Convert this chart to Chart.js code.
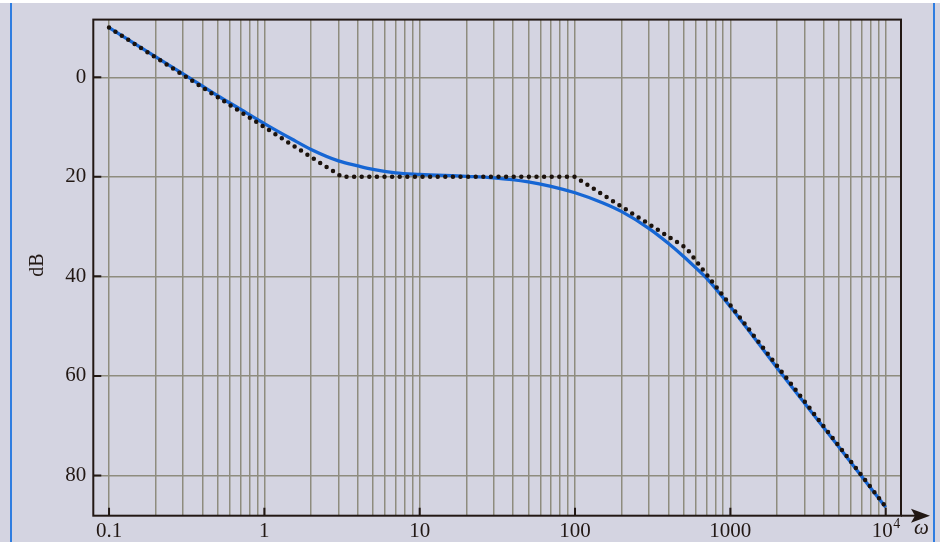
<!DOCTYPE html>
<html>
<head>
<meta charset="utf-8">
<script src="https://cdn.jsdelivr.net/npm/chart.js@4.4.1/dist/chart.umd.min.js"></script>
<style>
  html, body { margin: 0; padding: 0; background: #d4d4e1; }
  #wrap { position: relative; width: 940px; height: 542px; overflow: hidden; }
  #topband { position: absolute; left: 0; top: 0; width: 940px; height: 3px; background: #ffffff; }
  .edge { position: absolute; top: 3px; width: 2px; height: 539px; background: #2f7de0; }
</style>
</head>
<body>
<div id="wrap">
  <canvas id="bode"></canvas>
  <div id="topband"></div>
  <div class="edge" style="left:10px"></div>
  <div class="edge" style="left:933px"></div>
</div>
<script>
// ===== data =====
// straight-line (asymptotic) approximation, dotted
const omegaAsym = [0.1, 3.16, 100, 520, 10000];
const dbAsym = [-10, 20, 20, 34.3, 86.3];

// exact magnitude, blue
const omegaExact = [0.1, 0.2, 0.3, 0.5, 0.7, 1, 1.5, 2, 3, 4, 5, 7, 10, 20, 30, 50, 70,
  100, 150, 200, 300, 400, 500, 600, 700, 1000, 2000, 5000, 10000];
const dbExact = [-10, -4.1, -0.7, 3.7, 6.4, 9.3, 12.4, 14.5, 16.8, 17.8, 18.5, 19.2, 19.5, 19.9, 20.2, 21.0, 21.9,
  23.2, 25.2, 27.0, 30.4, 33.4, 36.0, 38.3, 40.3, 46.1, 58.4, 74.3, 86.4];

// axes
const gridOmega = [0.1, 0.2, 0.3, 0.4, 0.5, 0.6, 0.7, 0.8, 0.9,
  1, 2, 3, 4, 5, 6, 7, 8, 9,
  10, 20, 30, 40, 50, 60, 70, 80, 90,
  100, 200, 300, 400, 500, 600, 700, 800, 900,
  1000, 2000, 3000, 4000, 5000, 6000, 7000, 8000, 9000,
  10000];
const decadeLabels = [0.1, 1, 10, 100, 1000];
const dbTicks = [0, 20, 40, 60, 80];

const ink = "#221814";
const serif = "'Liberation Serif', 'DejaVu Serif', serif";

const toPoints = (xs, ys) => xs.map((x, i) => ({ x, y: ys[i] }));

// ===== frame, inner ticks, arrow, extra labels =====
const frame = {
  id: "frame",
  afterDraw(chart) {
    const { ctx, chartArea: a, scales: { x, y } } = chart;
    ctx.save();
    ctx.strokeStyle = ink;
    ctx.fillStyle = ink;
    ctx.lineWidth = 2;
    ctx.strokeRect(a.left, a.top, a.right - a.left, a.bottom - a.top);

    // omega axis runs out past the frame with an arrow
    ctx.beginPath();
    ctx.moveTo(a.right, a.bottom);
    ctx.lineTo(916, a.bottom);
    ctx.stroke();
    ctx.beginPath();
    ctx.moveTo(930, a.bottom);
    ctx.lineTo(911, a.bottom - 7);
    ctx.lineTo(915, a.bottom);
    ctx.lineTo(911, a.bottom + 7);
    ctx.closePath();
    ctx.fill();

    // short ticks pointing inward
    ctx.beginPath();
    decadeLabels.concat([10000]).forEach(v => {
      const px = x.getPixelForValue(v);
      ctx.moveTo(px, a.bottom);
      ctx.lineTo(px, a.bottom - 8);
    });
    dbTicks.forEach(v => {
      const py = y.getPixelForValue(v);
      ctx.moveTo(a.left, py);
      ctx.lineTo(a.left + 8, py);
    });
    ctx.stroke();

    // 10^4 label
    const p4 = x.getPixelForValue(10000);
    ctx.font = "21px " + serif;
    ctx.textAlign = "right";
    ctx.textBaseline = "alphabetic";
    ctx.fillText("10", p4 + 7, 537);
    ctx.font = "14px " + serif;
    ctx.textAlign = "left";
    ctx.fillText("4", p4 + 7.5, 527.5);

    // omega
    ctx.font = "italic 21px " + serif;
    ctx.textAlign = "center";
    ctx.fillText("ω", 921.5, 534);

    // dB
    ctx.translate(38, 265);
    ctx.rotate(-Math.PI / 2);
    ctx.font = "20px " + serif;
    ctx.textAlign = "center";
    ctx.textBaseline = "middle";
    ctx.fillText("dB", 0, 0);
    ctx.restore();
  }
};

new Chart(document.getElementById("bode"), {
  type: "line",
  data: {
    datasets: [
      {
        label: "asymptotic",
        data: toPoints(omegaAsym, dbAsym),
        borderColor: "#1b120c",
        borderWidth: 4.5,
        borderDash: [0, 7.6],
        borderCapStyle: "round",
        pointRadius: 0,
        tension: 0
      },
      {
        label: "exact",
        data: toPoints(omegaExact, dbExact),
        borderColor: "#1666d4",
        borderWidth: 3.3,
        pointRadius: 0,
        cubicInterpolationMode: "monotone"
      }
    ]
  },
  options: {
    responsive: true,
    maintainAspectRatio: false,
    animation: false,
    layout: { padding: { left: 0, top: 15.7, right: 39, bottom: 0 } },
    plugins: { legend: { display: false }, tooltip: { enabled: false } },
    scales: {
      x: {
        type: "logarithmic",
        min: 0.0792,
        max: 12550,
        afterBuildTicks: s => { s.ticks = gridOmega.map(v => ({ value: v })); },
        afterFit: s => { s.height = 26.3; },
        border: { display: false },
        grid: { color: "#8e8c7e", lineWidth: 1.5, drawTicks: false },
        ticks: {
          autoSkip: false,
          maxRotation: 0,
          padding: 3,
          color: ink,
          font: { family: serif, size: 21 },
          callback: v => decadeLabels.includes(v) ? String(v) : ""
        }
      },
      y: {
        type: "linear",
        reverse: true,
        min: -11.6,
        max: 88.1,
        afterBuildTicks: s => { s.ticks = dbTicks.map(v => ({ value: v })); },
        afterFit: s => { s.width = 93.3; },
        border: { display: false },
        grid: { color: "#8e8c7e", lineWidth: 1.5, drawTicks: false },
        ticks: {
          padding: 7,
          color: ink,
          font: { family: serif, size: 21 },
          callback: v => String(v)
        }
      }
    }
  },
  plugins: [frame]
});
</script>
</body>
</html>
